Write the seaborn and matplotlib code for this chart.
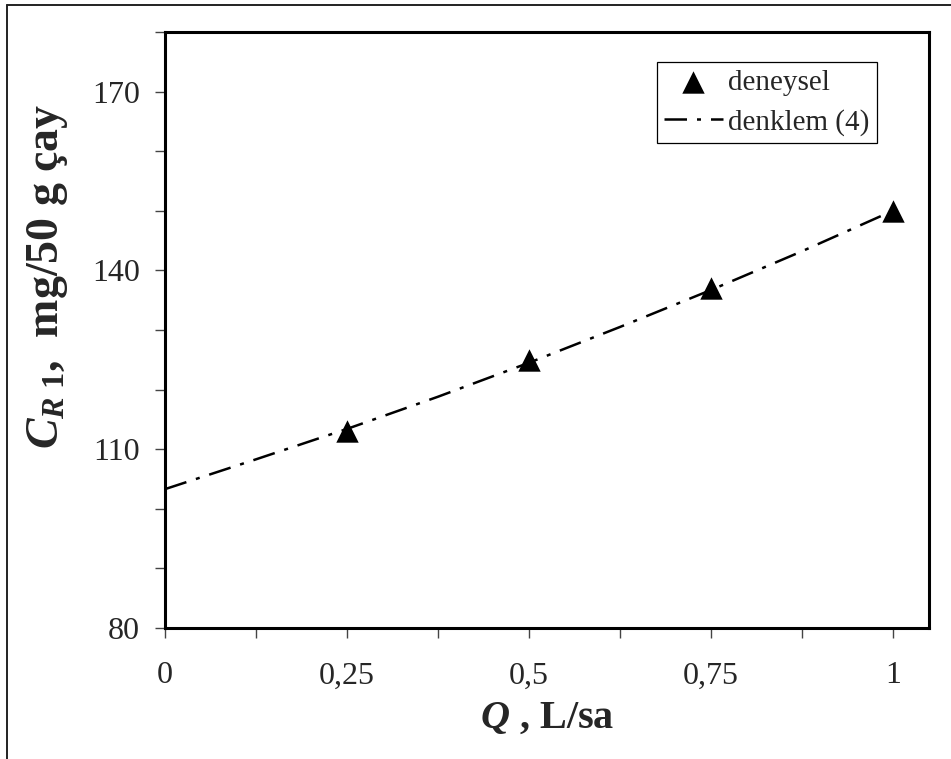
"""Recreate the C_R1 vs Q chart (deneysel + denklem (4))."""
import matplotlib
matplotlib.use("Agg")
import matplotlib.pyplot as plt
import seaborn as sns
import pandas as pd
from matplotlib.lines import Line2D
from matplotlib.ticker import AutoMinorLocator, FixedLocator, FixedFormatter

# experimental points
q_exp = [0.25, 0.5, 0.75, 1.0]
c_exp = [113.0, 125.0, 137.0, 150.0]

# equation (4) curve
q_eq = [0.0, 0.125, 0.25, 0.375, 0.5, 0.625, 0.75, 0.875, 1.0]
c_eq = [103.3, 108.3, 113.4, 118.8, 124.5, 130.5, 136.7, 143.2, 150.0]

x_ticks = [0, 0.25, 0.5, 0.75, 1.0]
x_tick_labels = ["0", "0,25", "0,5", "0,75", "1"]
y_ticks = [80, 110, 140, 170]

sns.set_style("ticks")
plt.rcParams["font.family"] = ["Liberation Serif", "DejaVu Serif"]
plt.rcParams["mathtext.fontset"] = "custom"
plt.rcParams["mathtext.it"] = "Liberation Serif:italic:bold"
plt.rcParams["mathtext.rm"] = "Liberation Serif:bold"
plt.rcParams["mathtext.bf"] = "Liberation Serif:bold"

df_exp = pd.DataFrame({"Q": q_exp, "C": c_exp})
df_eq = pd.DataFrame({"Q": q_eq, "C": c_eq})

fig = plt.figure(figsize=(9.51, 7.59), dpi=100)
ax = fig.add_axes([0.1735, 0.1726, 0.8035, 0.7852])

sns.lineplot(data=df_eq, x="Q", y="C", ax=ax, color="black", lw=1.8,
             linestyle=(0, (9, 4, 1.6, 4)), label="denklem (4)", zorder=2)
sns.scatterplot(data=df_exp, x="Q", y="C", ax=ax, color="black", marker="^",
                s=260, edgecolor="black", linewidth=0, label="deneysel", zorder=3)

ax.set_xlim(0, 1.05)
ax.set_ylim(80, 180)
ax.xaxis.set_major_locator(FixedLocator(x_ticks))
ax.xaxis.set_major_formatter(FixedFormatter(x_tick_labels))
ax.xaxis.set_minor_locator(AutoMinorLocator(2))
ax.yaxis.set_major_locator(FixedLocator(y_ticks))
ax.yaxis.set_minor_locator(AutoMinorLocator(3))

ax.tick_params(which="both", direction="out", length=7, width=1, color="#444444")
ax.tick_params(axis="x", which="major", labelsize=23, pad=17)
ax.tick_params(axis="y", which="major", labelsize=23, pad=11)
for sp in ax.spines.values():
    sp.set_linewidth(2.2)
    sp.set_color("black")

ax.set_xlabel("$Q$ , L/sa", fontsize=29, fontweight="bold", labelpad=7)
ax.set_ylabel("$C_{R\\ 1}$,  mg/50 g çay", fontsize=33, fontweight="bold")
ax.yaxis.set_label_coords(-0.124, 0.59)

handles, labels = ax.get_legend_handles_labels()
order = [labels.index("deneysel"), labels.index("denklem (4)")]
leg = ax.legend([handles[i] for i in order], [labels[i] for i in order],
                loc="upper right", bbox_to_anchor=(0.932, 0.950), borderaxespad=0,
                fontsize=21, frameon=True, fancybox=False, framealpha=1,
                edgecolor="black", handlelength=2.0, handletextpad=0.2,
                borderpad=0.25, labelspacing=0.45, markerscale=1.0)
leg.get_frame().set_linewidth(0.9)

# outer chart frame (top and left edges visible)
fig.add_artist(Line2D([0.0074, 1.0], [0.994, 0.994], transform=fig.transFigure,
                      color="#222222", lw=1.4))
fig.add_artist(Line2D([0.0074, 0.0074], [0.0, 0.994], transform=fig.transFigure,
                      color="#222222", lw=1.4))

fig.savefig("out.png", dpi=100)
